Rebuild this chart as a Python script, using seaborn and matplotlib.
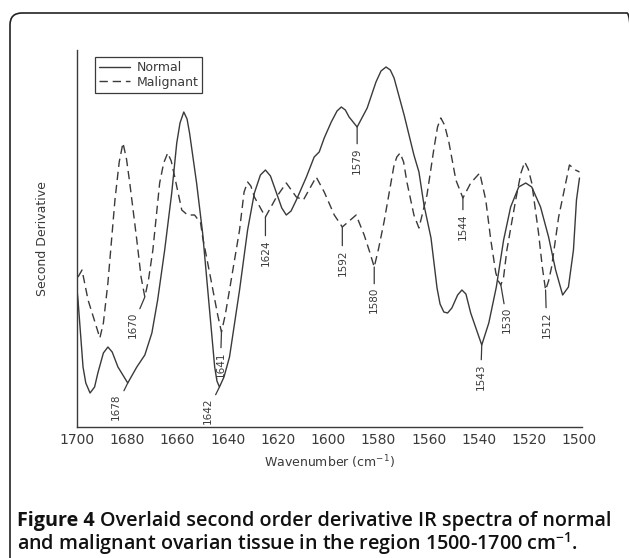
import numpy as np
import pandas as pd
import matplotlib
matplotlib.use("Agg")
import matplotlib.pyplot as plt
import seaborn as sns
from matplotlib.patches import FancyBboxPatch

# Normal tissue - second derivative (arbitrary units)
normal_wn = [1700.0, 1699.6, 1697.6, 1696.5, 1694.8, 1693.0, 1691.7, 1689.5, 1687.7, 1686.0,
             1683.7, 1679.8, 1676.2, 1673.0, 1670.2, 1667.9, 1665.1, 1662.3, 1660.3, 1659.0,
             1657.5, 1656.2, 1655.2, 1652.4, 1650.0, 1647.6, 1645.2, 1644.3, 1643.3, 1641.5,
             1639.3, 1635.3, 1632.1, 1629.4, 1627.0, 1625.0, 1623.0, 1620.6, 1618.5, 1616.7,
             1614.8, 1612.7, 1608.7, 1605.6, 1603.6, 1601.6, 1598.8, 1596.5, 1594.8, 1593.2,
             1591.7, 1588.5, 1584.5, 1581.0, 1579.0, 1577.0, 1575.3, 1573.8, 1569.8, 1565.9,
             1563.9, 1561.9, 1559.1, 1556.7, 1555.5, 1554.0, 1552.5, 1550.8, 1548.5, 1546.8,
             1545.2, 1543.3, 1538.9, 1536.1, 1533.1, 1530.2, 1527.4, 1524.2, 1521.4, 1519.0,
             1515.5, 1512.3, 1509.5, 1506.7, 1504.4, 1502.4, 1501.2, 1500.0]
normal_val = [137, 127, 60, 44, 34, 40, 54, 74, 80, 75,
              60, 44, 60, 72, 94, 127, 177, 234, 284, 304,
              315, 308, 294, 244, 194, 127, 60, 46, 40, 50,
              70, 137, 197, 234, 252, 257, 251, 234, 219, 212,
              216, 227, 250, 270, 275, 289, 305, 316, 320, 317,
              310, 300, 319, 345, 356, 360, 357, 349, 312, 272,
              255, 222, 189, 139, 123, 115, 114, 119, 132, 137,
              133, 114, 82, 104, 140, 187, 220, 240, 244, 240,
              220, 190, 157, 132, 140, 177, 227, 249]

# Malignant tissue
malig_wn = [1699.6, 1698.0, 1695.6, 1692.5, 1690.9, 1689.5, 1687.7, 1684.9, 1683.2, 1681.7,
            1680.3, 1679.0, 1676.2, 1674.5, 1673.0, 1671.5, 1669.8, 1667.1, 1665.5, 1663.9,
            1662.5, 1661.1, 1658.3, 1656.0, 1653.2, 1650.8, 1650.0, 1647.2, 1644.0, 1642.5,
            1641.0, 1639.3, 1635.3, 1633.5, 1632.1, 1630.8, 1629.4, 1625.0, 1620.6, 1616.7,
            1612.7, 1609.9, 1604.8, 1601.6, 1597.6, 1594.4, 1588.9, 1585.7, 1583.5, 1581.7,
            1580.0, 1577.8, 1573.8, 1572.7, 1571.4, 1570.0, 1568.7, 1565.9, 1563.9, 1560.7,
            1557.9, 1556.5, 1555.2, 1553.7, 1552.0, 1549.2, 1546.4, 1543.3, 1539.7, 1537.3,
            1535.3, 1533.3, 1532.3, 1531.3, 1530.2, 1528.9, 1525.4, 1523.3, 1521.8, 1520.4,
            1519.0, 1516.3, 1514.8, 1513.5, 1512.3, 1511.1, 1508.3, 1504.0, 1501.6, 1500.0]
malig_val = [150, 157, 127, 102, 89, 104, 144, 227, 265, 284,
             268, 244, 187, 150, 130, 148, 177, 244, 264, 274,
             266, 250, 217, 212, 212, 204, 190, 154, 112, 95,
             112, 137, 197, 235, 245, 241, 230, 210, 230, 244,
             230, 227, 250, 235, 212, 200, 212, 192, 175, 160,
             178, 205, 262, 270, 274, 265, 245, 212, 199, 232,
             279, 300, 309, 302, 285, 247, 229, 244, 254, 227,
             187, 154, 146, 142, 150, 177, 227, 254, 265, 258,
             244, 194, 160, 137, 146, 160, 210, 262, 257, 255]

# band labels: text, series, wavenumber where the mark touches the curve
band_text = ["1678", "1670", "1642", "1641", "1624", "1592", "1580", "1579", "1544", "1543", "1530", "1512"]
band_series = ["Normal", "Malignant", "Normal", "Malignant", "Malignant", "Malignant",
               "Malignant", "Normal", "Malignant", "Normal", "Malignant", "Malignant"]
band_wn = [1679.8, 1673.0, 1643.3, 1642.5, 1625.0, 1594.4, 1581.7, 1588.5, 1546.4, 1538.9, 1531.3, 1513.5]
# leader offsets in pixels (dx, dy)
band_off = [(-12, -11), (-12, -15), (-12, -11), (-1, -19), (0, -22), (0, -22),
            (0, -20), (0, -20), (0, -15), (-1, -18), (6, -22), (1, -21)]

xticks = list(range(1700, 1499, -20))

df = pd.concat([
    pd.DataFrame({"wn": normal_wn, "val": normal_val, "series": "Normal"}),
    pd.DataFrame({"wn": malig_wn, "val": malig_val, "series": "Malignant"}),
])

sns.set_style("white")
plt.rcParams["font.family"] = ["DejaVu Sans"]
plt.rcParams["mathtext.default"] = "regular"
ink = "#3a3a3a"

fig = plt.figure(figsize=(6.29, 5.58), dpi=100)
W, H = 629, 558
ax = fig.add_axes([77 / W, 1 - 427 / H, (582 - 77) / W, (427 - 50) / H])

sns.lineplot(data=df, x="wn", y="val", style="series", style_order=["Normal", "Malignant"],
             dashes={"Normal": "", "Malignant": (6, 3.5)}, color=ink, lw=1.0,
             estimator=None, sort=False, ax=ax)

ax.set_xlim(1700, 1499)
ax.set_ylim(0, 377)
ax.set_xticks(xticks)
ax.set_yticks([])
ax.tick_params(axis="x", direction="in", length=6.5, width=1.0, color=ink,
               labelsize=10, labelcolor=ink, pad=4)
for s in ["top", "right"]:
    ax.spines[s].set_visible(False)
for s in ["left", "bottom"]:
    ax.spines[s].set_color(ink)
    ax.spines[s].set_linewidth(1.0)

ax.set_xlabel("Wavenumber (cm$^{-1}$)", fontsize=9, color=ink, labelpad=5)
ax.set_ylabel("Second Derivative", fontsize=9, color=ink, labelpad=20)

series_data = {"Normal": (normal_wn, normal_val), "Malignant": (malig_wn, malig_val)}
for txt, ser, wn, (dx, dy) in zip(band_text, band_series, band_wn, band_off):
    xs, ys = series_data[ser]
    yv = np.interp(wn, xs[::-1], ys[::-1])
    ax.annotate(txt, xy=(wn, yv), xytext=(dx, dy), textcoords="offset pixels",
                rotation=90, ha="center", va="top", fontsize=7.5, color=ink,
                arrowprops=dict(arrowstyle="-", color=ink, lw=0.9, shrinkA=0, shrinkB=0))

leg = ax.legend(loc="upper left", bbox_to_anchor=(0.036, 0.981), borderaxespad=0,
                fancybox=False, frameon=True, edgecolor=ink, framealpha=1,
                handlelength=2.5, fontsize=9, labelspacing=0.15, borderpad=0.3,
                handletextpad=0.5)
leg.get_frame().set_linewidth(0.9)
for t in leg.get_texts():
    t.set_color(ink)

# outer rounded border (pixel coordinates, origin bottom-left); right side runs off the page
box = FancyBboxPatch((10, -20), 629, 565, boxstyle="round,pad=0,rounding_size=12",
                     transform=None, fill=False, edgecolor="#222222", lw=1.2)
fig.add_artist(box)

# caption
cap_font = ["Open Sans", "DejaVu Sans"]
cap_size = 14.2
t1a = fig.text(17 / W, 1 - 521 / H, "Figure 4", fontsize=cap_size, fontweight="bold",
               family=cap_font, va="center", ha="left", color="#111111")
fig.canvas.draw()
bb = t1a.get_window_extent()
fig.text((bb.x1 + 5) / W, 1 - 521 / H, "Overlaid second order derivative IR spectra of normal",
         fontsize=cap_size, fontweight="semibold", family=cap_font, va="center", ha="left",
         color="#111111")
fig.text(17 / W, 1 - 544 / H, "and malignant ovarian tissue in the region 1500-1700 cm$^{-1}$.",
         fontsize=cap_size, fontweight="semibold", family=cap_font, va="center", ha="left",
         color="#111111")

fig.savefig("out.png", dpi=100)
